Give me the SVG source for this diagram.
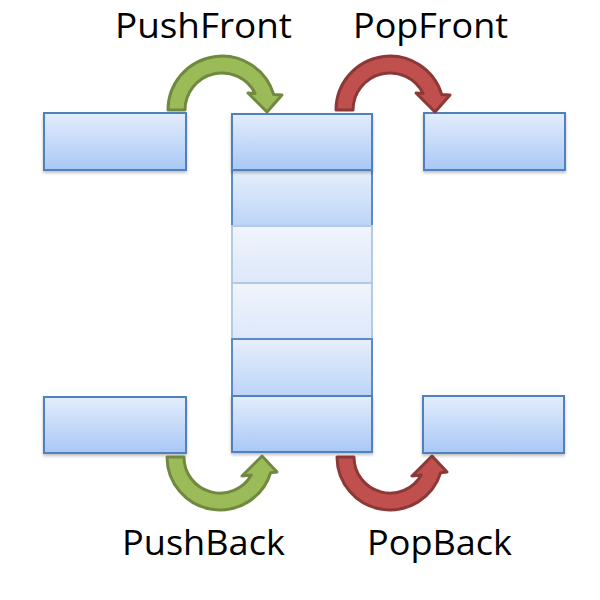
<svg xmlns="http://www.w3.org/2000/svg" width="600" height="600" viewBox="0 0 600 600">
  <defs>
    <linearGradient id="boxGrad" x1="0" y1="0" x2="0" y2="1">
      <stop offset="0" stop-color="#e3edfc"/>
      <stop offset="1" stop-color="#a9c8f6"/>
    </linearGradient>
    <linearGradient id="midGrad" x1="0" y1="0" x2="0" y2="1">
      <stop offset="0" stop-color="#e6effc"/>
      <stop offset="1" stop-color="#bcd4f8"/>
    </linearGradient>
    <linearGradient id="fadeGrad" x1="0" y1="0" x2="0" y2="1">
      <stop offset="0" stop-color="#f0f5fd"/>
      <stop offset="1" stop-color="#dde8fa"/>
    </linearGradient>
    <filter id="shadow" x="-10%" y="-10%" width="120%" height="130%">
      <feDropShadow dx="0" dy="2" stdDeviation="1.5" flood-color="#000" flood-opacity="0.25"/>
    </filter>
  </defs>
  <style>
    .box { fill: url(#boxGrad); stroke: #4f81bd; stroke-width: 2; filter: url(#shadow); }
    .mid { fill: url(#midGrad); stroke: #5a8bc6; stroke-width: 2; }
    .fade { fill: url(#fadeGrad); stroke: #b3c9e6; stroke-width: 2; }
    .green { fill: #9bbb59; stroke: #71893f; stroke-width: 3; stroke-linejoin: round; }
    .red { fill: #c0504d; stroke: #8c3836; stroke-width: 3; stroke-linejoin: round; }
    .label { font-family: "Open Sans", "Liberation Sans", sans-serif; font-size: 35px; fill: #000; }
  </style>
  <rect width="600" height="600" fill="#ffffff"/>

  <g id="deque">
    <rect class="mid" x="232" y="170" width="140" height="56"/>
    <rect class="fade" x="232" y="226" width="140" height="57"/>
    <rect class="fade" x="232" y="283" width="140" height="56"/>
    <rect class="mid" x="232" y="339" width="140" height="57"/>
    <rect class="box" x="232" y="114" width="140" height="56"/>
    <rect class="box" x="232" y="396" width="140" height="56"/>
  </g>

  <g id="left-front"><rect class="box" x="44" y="113" width="142" height="57"/></g>
  <g id="right-front"><rect class="box" x="424" y="113" width="141" height="57"/></g>
  <g id="left-back"><rect class="box" x="44" y="397" width="142" height="56"/></g>
  <g id="right-back"><rect class="box" x="423" y="396" width="141" height="57"/></g>

  <g id="connectors">
    <path id="pushfront-arrow" class="green" d="M 168,110 A 54,54 0 0 1 273.7,94.5 L 282,95 L 267,112 L 248,93 L 255.1,93.4 A 37,37 0 0 0 185,110 Z"/>
    <path id="popfront-arrow" class="red" transform="translate(168,0)" d="M 168,110 A 54,54 0 0 1 273.7,94.5 L 282,95 L 267,112 L 248,93 L 255.1,93.4 A 37,37 0 0 0 185,110 Z"/>
    <path id="pushback-arrow" class="green" d="M 167,457 A 53,53 0 0 0 270.6,472.7 L 277,472 L 262,456 L 242,476 L 251.3,474.9 A 36,36 0 0 1 184,457 Z"/>
    <path id="popback-arrow" class="red" transform="translate(170,0)" d="M 167,457 A 53,53 0 0 0 270.6,472.7 L 277,472 L 262,456 L 242,476 L 251.3,474.9 A 36,36 0 0 1 184,457 Z"/>
  </g>

  <g id="labels">
    <text class="label" x="115" y="38" textLength="177" lengthAdjust="spacingAndGlyphs">PushFront</text>
    <text class="label" x="353" y="38" textLength="155" lengthAdjust="spacingAndGlyphs">PopFront</text>
    <text class="label" x="122" y="555" textLength="163" lengthAdjust="spacingAndGlyphs">PushBack</text>
    <text class="label" x="367" y="555" textLength="145" lengthAdjust="spacingAndGlyphs">PopBack</text>
  </g>
</svg>
